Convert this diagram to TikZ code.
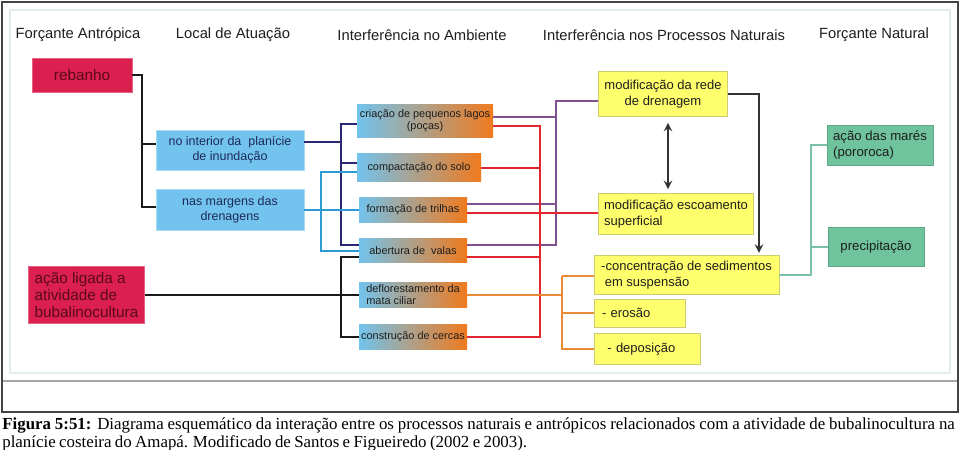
\documentclass[tikz,border=0pt]{standalone}
\usepackage{fontspec}
\setmainfont{Liberation Sans}
\newfontfamily\legendafont{Liberation Serif}
\usetikzlibrary{arrows}

\begin{document}
\begin{tikzpicture}[x=0.2mm, y=-0.2mm, >=stealth,
    titulo/.style={text=txt_dark, font=\fontsize{8.4}{10}\selectfont},
    antropica/.style={fill=tab_crimson, draw=tab_crimson!70!white, line width=0.4pt, text=txt_crimson, font=\fontsize{8.7}{9.6}\selectfont},
    local/.style={fill=tab_sky, draw=tab_sky!60!white, line width=0.4pt, text=txt_navy, align=center, font=\fontsize{7.1}{8.5}\selectfont},
    ambiente/.style={left color=tab_sky, right color=tab_orange, inner sep=1pt, text=txt_dark, font=\fontsize{6.2}{6.9}\selectfont},
    processo/.style={fill=tab_yellow, draw=tab_yellow!60!gray, line width=0.4pt, text=txt_dark, font=\fontsize{7.4}{9}\selectfont},
    natural/.style={fill=tab_green, draw=tab_green!85!black, line width=0.4pt, text=txt_dark, font=\fontsize{7.5}{9}\selectfont},
    liga/.style={line width=1.134pt}
  ]
    \definecolor{tab_crimson}{HTML}{DB1F4E}
    \definecolor{tab_sky}{HTML}{72C3ED}
    \definecolor{tab_orange}{HTML}{F07A1E}
    \definecolor{tab_yellow}{HTML}{FFFF6E}
    \definecolor{tab_green}{HTML}{6FC39D}
    \definecolor{txt_dark}{HTML}{1E1E1E}
    \definecolor{txt_navy}{HTML}{1E2A5A}
    \definecolor{txt_crimson}{HTML}{5A0A18}
    \definecolor{ln_black}{HTML}{1A1A1A}
    \definecolor{ln_navy}{HTML}{2B2873}
    \definecolor{ln_cyan}{HTML}{2A9BD3}
    \definecolor{ln_purple}{HTML}{80508F}
    \definecolor{ln_red}{HTML}{E2262D}
    \definecolor{ln_orange}{HTML}{E98A35}
    \definecolor{ln_teal}{HTML}{7BC0AA}
    \definecolor{ln_dark}{HTML}{333333}
    \definecolor{frame_gray}{HTML}{444444}
    \definecolor{frame_pale}{HTML}{E2EEEE}
    %\draw[help lines] (0,0) grid (960,450);
    \useasboundingbox (0,0) rectangle (960,450);
    \path[fill=white] (0,0) rectangle (960,450);

    % moldura
    \draw[frame_pale, line width=0.9pt] (10,10) rectangle (950,373);
    \draw[black!35, line width=0.6pt] (2,381) -- (958,381);
    \draw[frame_gray, line width=0.9pt] (2,2) rectangle (958,412);

    % titulos das colunas
    \node[titulo] (head1) at (78,35) {Forçante Antrópica};
    \node[titulo] (head2) at (233,35) {Local de Atuação};
    \node[titulo] (head3) at (422,35) {Interferência no Ambiente};
    \node[titulo] (head4) at (664,35) {Interferência nos Processos Naturais};
    \node[titulo] (head5) at (874,35) {Forçante Natural};

    % forcante antropica
    \node[antropica, minimum width=20mm, minimum height=6.8mm] (rebanho) at (82,75) {rebanho};
    \node[antropica, minimum width=22.6mm, minimum height=10.4mm, align=left] (acao) at (86.5,295) {ação ligada a\\atividade de\\bubalinocultura};

    % local de atuacao
    \node[local, minimum width=29.6mm, minimum height=8mm] (interior) at (230,150) {no interior da \ planície\\de inundação};
    \node[local, minimum width=29.6mm, minimum height=8.2mm] (margens) at (230,210) {nas margens das\\drenagens};

    % interferencia no ambiente
    \node[ambiente, minimum width=27.2mm, minimum height=6.6mm, align=center] (criacao) at (425,121) {criação de pequenos lagos\\(poças)};
    \node[ambiente, minimum width=24.8mm, minimum height=5.6mm] (compact) at (419,168) {compactação do solo};
    \node[ambiente, minimum width=21.6mm, minimum height=5mm] (trilhas) at (413,210) {formação de trilhas};
    \node[ambiente, minimum width=21.6mm, minimum height=4.8mm] (valas) at (413,251) {abertura de \ valas};
    \node[ambiente, minimum width=21.6mm, minimum height=5mm, align=left] (deflor) at (413,295) {deflorestamento da\\mata ciliar};
    \node[ambiente, minimum width=21.6mm, minimum height=5mm] (cercas) at (413,337) {construção de cercas};

    % interferencia nos processos naturais
    \node[processo, minimum width=25.6mm, minimum height=9mm, align=center] (rede) at (663,94) {modificação da rede\\de drenagem};
    \node[processo, minimum width=30mm, minimum height=8.2mm, align=left] (escoam) at (676,214) {modificação escoamento\\superficial};
    \node[processo, minimum width=37mm, minimum height=6.6mm, align=left] (sedim) at (686.5,275) {-concentração de sedimentos\\\ em suspensão};
    \node[processo, minimum height=5.6mm, text width=15mm, inner xsep=1.6mm, align=left] (erosao) at (639.5,313) {- erosão};
    \node[processo, minimum height=6.2mm, text width=17.6mm, inner xsep=1.8mm, align=left] (depos) at (647,349) {\ - deposição};

    % forcante natural
    \node[natural, minimum width=21.2mm, minimum height=7.6mm, align=left] (mares) at (880,145) {ação das marés\\(pororoca)};
    \node[natural, minimum width=19.2mm, minimum height=7.8mm] (precip) at (876,247) {precipitação};

    % troncos das ligacoes
    \coordinate (tr_reb) at (142,0);
    \coordinate (tr_int) at (341,0);
    \coordinate (tr_marg) at (321,0);
    \coordinate (tr_verm) at (540,0);
    \coordinate (tr_roxo) at (556,0);
    \coordinate (tr_lar) at (562,0);
    \coordinate (tr_seta) at (759,0);
    \coordinate (tr_nat) at (811,0);

    % rebanho -> locais
    \draw[liga, ln_black] (rebanho.east) -- (rebanho.east -| tr_reb) |- ([yshift=0.6mm]margens.west);
    \draw[liga, ln_black] ([yshift=1.2mm]interior.west -| tr_reb) -- ([yshift=1.2mm]interior.west);
    % acao ligada -> ambiente
    \draw[liga, ln_black] (acao.east) -- (acao.east -| deflor.west);
    \draw[liga, ln_black] ([yshift=-1.2mm]valas.west) -| (tr_int |- cercas.west) -- (cercas.west);
    % interior -> ambiente
    \draw[liga, ln_navy] ([yshift=1.6mm]interior.east) -- ([yshift=1.6mm]interior.east -| tr_int);
    \draw[liga, ln_navy] ([yshift=-0.6mm]criacao.west) -| ([yshift=1.2mm]valas.west -| tr_int) -- ([yshift=1.2mm]valas.west);
    \draw[liga, ln_navy] ([yshift=1mm]compact.west -| tr_int) -- ([yshift=1mm]compact.west);
    % margens -> ambiente
    \draw[liga, ln_cyan] (margens.east) -- (margens.east -| trilhas.west);
    \draw[liga, ln_cyan] ([yshift=-0.8mm]compact.west) -| (tr_marg |- valas.west) -- (valas.west);

    % ambiente -> rede de drenagem
    \draw[liga, ln_purple] ([yshift=0.8mm]criacao.east) -| ([yshift=-1.4mm]rede.west -| tr_roxo) -- ([yshift=-1.4mm]rede.west);
    \draw[liga, ln_purple] ([yshift=1.2mm]trilhas.east) -- ([yshift=1.2mm]trilhas.east -| tr_roxo);
    \draw[liga, ln_purple] ([yshift=1.2mm]valas.east) -| ([yshift=0.8mm]criacao.east -| tr_roxo);
    % ambiente -> escoamento
    \draw[liga, ln_red] ([yshift=-1mm]criacao.east) -| (tr_verm |- cercas.east) -- (cercas.east);
    \draw[liga, ln_red] (compact.east) -- (compact.east -| tr_verm);
    \draw[liga, ln_red] ([yshift=-0.6mm]trilhas.east) -- ([yshift=-0.6mm]trilhas.east -| escoam.west);
    \draw[liga, ln_red] ([yshift=-1.2mm]valas.east) -- ([yshift=-1.2mm]valas.east -| tr_verm);
    % deflorestamento -> sedimentos
    \draw[liga, ln_orange] (deflor.east) -- (deflor.east -| tr_lar);
    \draw[liga, ln_orange] ([yshift=-0.2mm]sedim.west -| tr_lar) -- ([yshift=-0.2mm]sedim.west);
    \draw[liga, ln_orange] ([yshift=-0.2mm]sedim.west -| tr_lar) |- (depos.west);
    \draw[liga, ln_orange] (tr_lar |- erosao.west) -- (erosao.west);

    % processos naturais
    \draw[liga, ln_dark, <->, shorten <=1.2mm, shorten >=0.8mm] ([xshift=1mm]rede.south) -- ([xshift=1mm]rede.south |- escoam.north);
    \draw[liga, ln_dark, ->, shorten >=0.4mm] (rede.east) -- (rede.east -| tr_seta) -- (tr_seta |- sedim.north);
    % forcante natural
    \draw[liga, ln_teal] (sedim.east) -| (tr_nat |- mares.west) -- (mares.west);
    \draw[liga, ln_teal] (tr_nat |- precip.west) -- (precip.west);

    % legenda
    \node[anchor=north west, inner sep=0pt, text width=542pt, align=justify,
          font=\legendafont\fontsize{9.6}{10.2}\selectfont] (legenda) at (2,417)
        {\spaceskip=0.2em plus 0.3em minus 0.06em\hyphenpenalty=10000
         \textbf{Figura 5:51:} Diagrama esquemático da interação entre os processos naturais e antrópicos relacionados com a atividade de bubalinocultura na\linebreak planície costeira do Amapá. Modificado de Santos e Figueiredo (2002 e 2003).};
\end{tikzpicture}
\end{document}
